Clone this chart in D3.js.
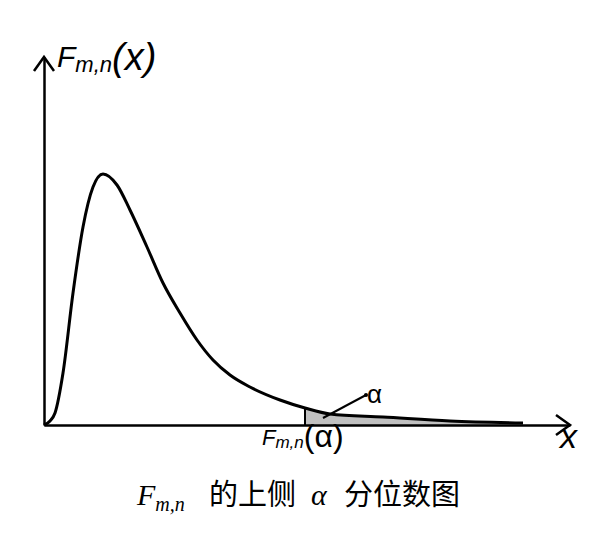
<!DOCTYPE html>
<html>
<head>
<meta charset="utf-8">
<script src="https://cdn.jsdelivr.net/npm/d3@7"></script>
<style>
body { margin: 0; background: #fff; }
</style>
</head>
<body>
<div id="chart"></div>
<script>
// density curve (x in axis units, y in density units)
var curveX = [0, 0.06, 0.11, 0.19, 0.29, 0.39, 0.49, 0.59, 0.73, 0.86, 1.03, 1.19, 1.36, 1.53, 1.69, 1.86, 2.06, 2.36, 2.61, 2.86, 3.39, 4.06, 4.79];
var curveY = [0, 0.016, 0.048, 0.208, 0.528, 0.792, 0.952, 1.004, 0.96, 0.86, 0.712, 0.568, 0.448, 0.34, 0.26, 0.2, 0.152, 0.1, 0.068, 0.044, 0.032, 0.016, 0.008];
var quantileIdx = 18;          // F_{m,n}(alpha) sits on this point
var axisEnd = [5.26, 1.472];   // where the arrows point
var leader = [[2.79, 0.028], [3.22, 0.12]];

var width = 600, height = 537;

var points = curveX.map(function(d, i) { return {x: d, y: curveY[i]}; });
var quantile = curveX[quantileIdx];

var x = d3.scaleLinear().domain([0, axisEnd[0]]).range([44, 570]);
var y = d3.scaleLinear().domain([0, axisEnd[1]]).range([425, 57]);

var svg = d3.select("#chart").append("svg")
  .attr("width", width)
  .attr("height", height)
  .style("background", "#fff");

svg.append("clipPath").attr("id", "tail")
  .append("rect")
  .attr("x", x(quantile)).attr("y", 0)
  .attr("width", width - x(quantile)).attr("height", height);

var area = d3.area()
  .x(d => x(d.x))
  .y0(y(0))
  .y1(d => y(d.y))
  .curve(d3.curveMonotoneX);

svg.append("path")
  .datum(points)
  .attr("clip-path", "url(#tail)")
  .attr("d", area)
  .attr("fill", "#c0c0c0");

svg.append("line")
  .attr("x1", x(quantile)).attr("x2", x(quantile))
  .attr("y1", y(0)).attr("y2", y(curveY[quantileIdx]))
  .attr("stroke", "#000")
  .attr("stroke-width", 2);

// axes without ticks
var xAxis = d3.axisBottom(x).tickValues([]).tickSizeOuter(0);
var yAxis = d3.axisLeft(y).tickValues([]).tickSizeOuter(0);

svg.append("g")
  .attr("transform", "translate(0," + y(0) + ")")
  .call(xAxis)
  .select(".domain").attr("stroke-width", 2.5);

svg.append("g")
  .attr("transform", "translate(" + x(0) + ",0)")
  .call(yAxis)
  .select(".domain").attr("stroke-width", 2.5);

// arrow heads
var xt = [x(axisEnd[0]), y(0)], yt = [x(0), y(axisEnd[1])];
svg.append("path")
  .attr("d", "M" + (xt[0] - 14) + "," + (xt[1] - 10) + "L" + xt[0] + "," + xt[1] + "L" + (xt[0] - 14) + "," + (xt[1] + 10))
  .attr("fill", "none").attr("stroke", "#000").attr("stroke-width", 2.5);
svg.append("path")
  .attr("d", "M" + (yt[0] - 10) + "," + (yt[1] + 14) + "L" + yt[0] + "," + yt[1] + "L" + (yt[0] + 10) + "," + (yt[1] + 14))
  .attr("fill", "none").attr("stroke", "#000").attr("stroke-width", 2.5);

var line = d3.line()
  .x(d => x(d.x))
  .y(d => y(d.y))
  .curve(d3.curveMonotoneX);

svg.append("path")
  .datum(points)
  .attr("d", line)
  .attr("fill", "none")
  .attr("stroke", "#000")
  .attr("stroke-width", 3);

// leader for alpha
svg.append("line")
  .attr("x1", x(leader[0][0])).attr("y1", y(leader[0][1]))
  .attr("x2", x(leader[1][0])).attr("y2", y(leader[1][1]))
  .attr("stroke", "#000").attr("stroke-width", 2);
svg.append("circle")
  .attr("cx", x(leader[1][0])).attr("cy", y(leader[1][1]))
  .attr("r", 2).attr("fill", "#000");

var sans = "'Liberation Sans', Arial, sans-serif";

svg.append("text")
  .attr("x", x(leader[1][0]) + 1).attr("y", 403)
  .attr("font-family", sans).attr("font-size", 26)
  .text("α");

// y label
var yl = svg.append("text")
  .attr("x", 57).attr("y", 67)
  .attr("font-family", sans).attr("font-style", "italic");
yl.append("tspan").attr("font-size", 30).text("F");
yl.append("tspan").attr("font-size", 22).attr("dy", 5).text("m,n");
yl.append("tspan").attr("font-size", 38).attr("dy", -2).text("(x)");

// x label
svg.append("text")
  .attr("x", 560).attr("y", 448)
  .attr("font-family", sans).attr("font-style", "italic").attr("font-size", 34)
  .text("x");

// quantile label
var ql = svg.append("text")
  .attr("x", x(quantile) - 43).attr("y", 445)
  .attr("font-family", sans);
ql.append("tspan").attr("font-size", 22).attr("font-style", "italic").text("F");
ql.append("tspan").attr("font-size", 17).attr("font-style", "italic").attr("dy", 3).text("m,n");
ql.append("tspan").attr("font-size", 32).attr("dy", -1).text("(α)");

// caption
var serif = "'Liberation Serif', 'DejaVu Serif', serif";
var cjk = "'Noto Sans CJK SC', sans-serif";
var cap = svg.append("g").attr("fill", "#000");
var capF = cap.append("text").attr("x", 137).attr("y", 505)
  .attr("font-family", serif).attr("font-style", "italic");
capF.append("tspan").attr("font-size", 30).text("F");
capF.append("tspan").attr("font-size", 20).attr("dy", 6).text("m,n");
cap.append("text").attr("x", 209).attr("y", 505)
  .attr("font-family", cjk).attr("font-size", 29).text("的上侧");
cap.append("text").attr("x", 311).attr("y", 505)
  .attr("font-family", serif).attr("font-style", "italic").attr("font-size", 30).text("α");
cap.append("text").attr("x", 344).attr("y", 505)
  .attr("font-family", cjk).attr("font-size", 29).text("分位数图");
</script>
</body>
</html>
